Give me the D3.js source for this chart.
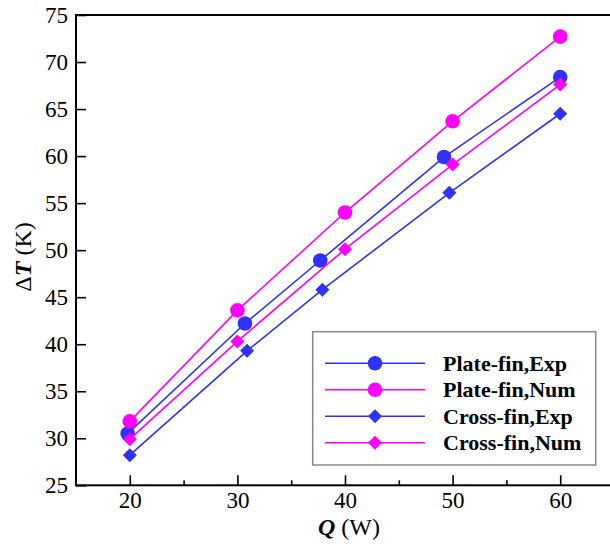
<!DOCTYPE html>
<html>
<head>
<meta charset="utf-8">
<script src="https://cdn.jsdelivr.net/npm/d3@7"></script>
<style>
  body { margin: 0; background: #fff; }
  svg { display: block; font-family: "Liberation Serif", "Times New Roman", serif; }
</style>
</head>
<body>
<svg id="chart" width="610" height="547"></svg>
<script>
// values
var seriesNames = ['Plate-fin,Exp', 'Plate-fin,Num', 'Cross-fin,Exp', 'Cross-fin,Num'];
var plateExpQ = [19.8, 30.7, 37.7, 49.2, 60];
var plateExpT = [30.5, 42.2, 48.9, 59.9, 68.4];
var plateNumQ = [20, 30, 40, 50, 60];
var plateNumT = [31.8, 43.6, 54.0, 63.7, 72.7];
var crossExpQ = [20, 30.9, 37.9, 49.7, 60];
var crossExpT = [28.2, 39.3, 45.8, 56.1, 64.5];
var crossNumQ = [20, 30, 40, 50, 60];
var crossNumT = [29.9, 40.3, 50.1, 59.1, 67.6];
var xMajorTicks = [20, 30, 40, 50, 60];
var xMinorTicks = [25, 35, 45, 55];
var yTicks = [25, 30, 35, 40, 45, 50, 55, 60, 65, 70, 75];

var blue = '#3030ff', magenta = '#ff00ff';

function zip(qs, ts) {
  return qs.map(function(q, i) { return {q: q, t: ts[i]}; });
}

var series = [
  {name: seriesNames[0], color: blue,    shape: 'circle',  data: zip(plateExpQ, plateExpT)},
  {name: seriesNames[1], color: magenta, shape: 'circle',  data: zip(plateNumQ, plateNumT)},
  {name: seriesNames[2], color: blue,    shape: 'diamond', data: zip(crossExpQ, crossExpT)},
  {name: seriesNames[3], color: magenta, shape: 'diamond', data: zip(crossNumQ, crossNumT)}
];

var plotL = 76, plotR = 614, plotT = 15, plotB = 485.3;

var x = d3.scaleLinear().domain([15, 65]).range([plotL, plotR]);
var y = d3.scaleLinear().domain([25, 75]).range([plotB, plotT]);

var svg = d3.select('#chart');

// frame
svg.append('rect')
  .attr('x', plotL).attr('y', plotT)
  .attr('width', plotR - plotL).attr('height', plotB - plotT)
  .attr('fill', 'none').attr('stroke', '#000').attr('stroke-width', 2);

var xAxis = svg.append('g')
  .attr('transform', 'translate(0,' + plotB + ')')
  .call(d3.axisBottom(x).tickValues(xMajorTicks).tickSize(-10).tickPadding(6)
    .tickFormat(d3.format('d')));
var xMinor = svg.append('g')
  .attr('transform', 'translate(0,' + plotB + ')')
  .call(d3.axisBottom(x).tickValues(xMinorTicks).tickSize(-5).tickFormat(''));
var yAxis = svg.append('g')
  .attr('transform', 'translate(' + plotL + ',0)')
  .call(d3.axisLeft(y).tickValues(yTicks).tickSize(-10).tickPadding(8)
    .tickFormat(d3.format('d')));

[xAxis, xMinor, yAxis].forEach(function(g) {
  g.select('.domain').remove();
  g.selectAll('line').attr('stroke', '#000').attr('stroke-width', 1.6);
  g.selectAll('text')
    .attr('fill', '#000')
    .style('font-family', '"Liberation Serif", serif')
    .style('font-size', '23px');
});

// axis titles
var xTitle = svg.append('text')
  .attr('x', 349).attr('y', 535)
  .attr('text-anchor', 'middle')
  .style('font-size', '24px');
xTitle.append('tspan').attr('font-weight', 'bold').attr('font-style', 'italic').text('Q');
xTitle.append('tspan').text(' (W)');

var yTitle = svg.append('text')
  .attr('transform', 'translate(31,257) rotate(-90)')
  .attr('text-anchor', 'middle')
  .style('font-size', '24px');
yTitle.append('tspan').text('\u0394');
yTitle.append('tspan').attr('font-weight', 'bold').attr('font-style', 'italic').text('T');
yTitle.append('tspan').text(' (K)');

var line = d3.line()
  .x(function(d) { return x(d.q); })
  .y(function(d) { return y(d.t); });

function marker(sel, s) {
  if (s.shape == 'circle') {
    sel.append('circle').attr('r', 7.3).attr('fill', s.color);
  } else {
    sel.append('path')
      .attr('d', d3.symbol().type(d3.symbolDiamond2).size(125))
      .attr('fill', s.color);
  }
}

series.forEach(function(s) {
  var g = svg.append('g');
  g.append('path')
    .datum(s.data)
    .attr('d', line)
    .attr('fill', 'none')
    .attr('stroke', s.color)
    .attr('stroke-width', 1.6);
  g.selectAll('.pt')
    .data(s.data)
    .enter()
    .append('g')
    .classed('pt', true)
    .attr('transform', function(d) { return 'translate(' + x(d.q) + ',' + y(d.t) + ')'; })
    .each(function() { marker(d3.select(this), s); });
});

// legend
var legend = svg.append('g');
legend.append('rect')
  .attr('x', 312.7).attr('y', 331.7)
  .attr('width', 283).attr('height', 133.3)
  .attr('fill', '#fff').attr('stroke', '#888').attr('stroke-width', 1.5);

var rows = legend.selectAll('.row')
  .data(series)
  .enter()
  .append('g')
  .classed('row', true)
  .attr('transform', function(d, i) { return 'translate(0,' + (363.3 + i * 26.5) + ')'; });
rows.append('line')
  .attr('x1', 325).attr('x2', 425)
  .attr('stroke', function(d) { return d.color; })
  .attr('stroke-width', 1.6);
rows.append('g')
  .attr('transform', 'translate(375,0)')
  .each(function(d) { marker(d3.select(this), d); });
rows.append('text')
  .attr('x', 443).attr('dy', '0.33em')
  .attr('font-weight', 'bold')
  .style('font-size', '22px')
  .text(function(d) { return d.name; });
</script>
</body>
</html>
